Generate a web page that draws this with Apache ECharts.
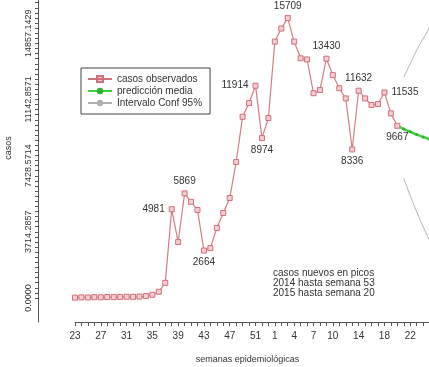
<!DOCTYPE html>
<html>
<head>
<meta charset="utf-8">
<script src="https://cdn.jsdelivr.net/npm/echarts@6/dist/echarts.min.js"></script>
<style>
  html, body { margin: 0; padding: 0; background: #fff; }
  #chart { width: 429px; height: 367px; }
</style>
</head>
<body>
<div id="chart"></div>
<script>
// Epidemiological weeks: 2014 weeks 23..53, then 2015 weeks 1..26
const weeks2014 = [23,24,25,26,27,28,29,30,31,32,33,34,35,36,37,38,39,40,41,42,43,44,45,46,47,48,49,50,51,52,53];
const weeks2015 = [1,2,3,4,5,6,7,8,9,10,11,12,13,14,15,16,17,18,19,20,21,22,23,24,25,26];
const categories = weeks2014.concat(weeks2015).map(String);

// Observed new cases per week (2014 w23 .. 2015 w20)
const observed = [
  20, 35, 30, 45, 40, 55, 50, 60, 70, 65, 80, 110, 180,
  350, 850, 4981, 3140, 5869, 5400, 4940, 2664, 2800, 3930, 4770, 5610, 7630,
  10170, 10940, 11914, 8974, 10100, 14390, 15120, 15709, 14390, 13450, 13390,
  11490, 11670, 13430, 12510, 11770, 11200, 8336, 11632, 11200, 10830, 10890,
  11535, 10360, 9667
];

// Mean forecast and 95% interval, starting from 2015 w20
const forecast = [9667, 9480, 9330, 9170, 9040, 8900, 8760];
const ciUpper  = [12400, 13150, 13900, 14550, 15150, 15700];
const ciLower  = [6700, 5750, 4850, 4000, 3250, 2600];

// Annotated peaks/valleys: index -> label position
const annotated = {15:'left', 17:'top', 20:'bottom', 28:'left', 29:'bottom', 33:'top',
                   39:'top', 43:'bottom', 44:'top', 48:'right', 50:'bottom'};

// Y axis: labelled ticks every 26000/7, fine ticks every 2000/7
const yLabelValues = [0, 26000/7, 52000/7, 78000/7, 104000/7];
const yTickValues = [];
for (let k = 0; k <= 63; k++) yTickValues.push(k * 2000 / 7);

// X axis: which category positions get a printed week label
const xLabelIdx = [0,4,8,12,16,20,24,28,31,34,37,40,44,48,52];

const n = categories.length;
const pad = (arr, start) => {
  const out = new Array(n).fill(null);
  arr.forEach((v, k) => { out[start + k] = v; });
  return out;
};

const obsData = observed.map((v, i) => annotated[i]
  ? { value: v, label: { show: true, position: annotated[i], distance: 4 } }
  : v);

const FONT = 'Liberation Sans, Arial, sans-serif';

const chart = echarts.init(document.getElementById('chart'), null, { renderer: 'canvas' });
chart.setOption({
  animation: false,
  backgroundColor: '#ffffff',
  textStyle: { fontFamily: FONT },
  grid: { left: 75, right: -7, top: -26, bottom: 45, containLabel: false, outerBoundsMode: 'none' },
  legend: {
    orient: 'vertical',
    left: 81, top: 68,
    borderColor: '#444', borderWidth: 1,
    padding: [6, 8, 6, 6],
    itemGap: 2,
    itemWidth: 24, itemHeight: 8,
    textStyle: { fontFamily: FONT, fontSize: 10, color: '#333' },
    data: [
      { name: 'casos observados', icon: 'path://M0,4 L24,4 M9,1 L15,1 L15,7 L9,7 Z' },
      { name: 'predicción media' },
      { name: 'Intervalo Conf 95%' }
    ]
  },
  xAxis: {
    type: 'category',
    data: categories,
    boundaryGap: false,
    name: 'semanas epidemiológicas',
    nameLocation: 'middle',
    nameGap: 33,
    nameTextStyle: { fontFamily: FONT, fontSize: 9, color: '#333', padding: [0, 16, 0, 0] },
    axisLine: { onZero: false, lineStyle: { color: '#555', width: 1 } },
    axisTick: { interval: 0, length: 4, lineStyle: { color: '#555' } },
    axisLabel: {
      interval: (idx) => xLabelIdx.indexOf(idx) >= 0,
      fontFamily: FONT, fontSize: 10, color: '#333', margin: 9
    },
    splitLine: { show: false }
  },
  yAxis: {
    type: 'value',
    min: -1347, max: 18182,
    offset: 37,
    name: 'casos',
    nameLocation: 'middle',
    nameGap: 25,
    nameRotate: 90,
    nameTextStyle: { fontFamily: FONT, fontSize: 9, color: '#333' },
    axisLine: { show: true, lineStyle: { color: '#555', width: 1 } },
    axisTick: { show: true, length: 3, customValues: yTickValues, lineStyle: { color: '#555' } },
    axisLabel: {
      customValues: yLabelValues,
      rotate: 90,
      margin: 5,
      fontFamily: FONT, fontSize: 9, color: '#333',
      formatter: (v) => v.toFixed(4)
    },
    splitLine: { show: false }
  },
  series: [
    {
      name: 'casos observados',
      type: 'line',
      data: obsData,
      symbol: 'rect',
      symbolSize: 5,
      showAllSymbol: true,
      lineStyle: { color: '#d57c84', width: 1.2 },
      itemStyle: { color: '#f5cdd1', borderColor: '#d0707a', borderWidth: 1 },
      label: { show: false, fontFamily: FONT, fontSize: 10, color: '#333' },
      z: 3
    },
    {
      name: 'predicción media',
      type: 'line',
      data: pad(forecast, 50),
      symbol: 'circle',
      symbolSize: 3,
      showAllSymbol: true,
      lineStyle: { color: '#3fd43f', width: 2.5 },
      itemStyle: { color: '#2fb02f' },
      z: 2
    },
    {
      name: 'Intervalo Conf 95%',
      type: 'line',
      data: pad(ciUpper, 51),
      symbol: 'none',
      smooth: true,
      lineStyle: { color: '#b0b0b0', width: 1 },
      itemStyle: { color: '#b0b0b0' }
    },
    {
      name: 'Intervalo Conf 95%',
      type: 'line',
      data: pad(ciLower, 51),
      symbol: 'none',
      smooth: true,
      lineStyle: { color: '#b0b0b0', width: 1 },
      itemStyle: { color: '#b0b0b0' }
    }
  ],
  graphic: [
    {
      type: 'text',
      left: 273, top: 268,
      style: {
        text: 'casos nuevos en picos\n2014 hasta semana 53\n2015 hasta semana 20',
        fontFamily: FONT, fontSize: 10, lineHeight: 10, fill: '#333', align: 'center'
      }
    }
  ]
});
</script>
</body>
</html>
